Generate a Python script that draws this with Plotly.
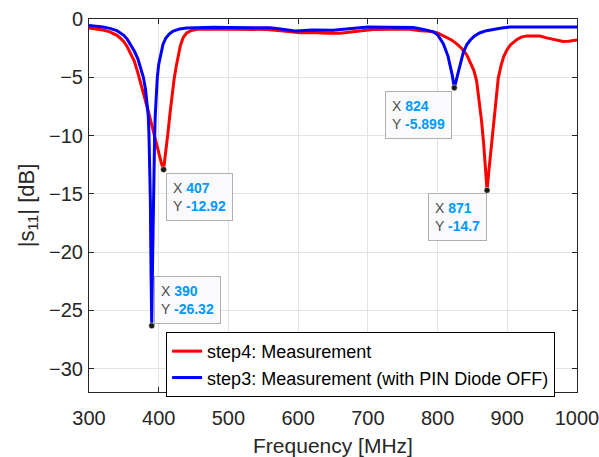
import plotly.graph_objects as go

# step4: Measurement (red)
freq_step4 = [300, 310, 320, 330, 340, 345, 350, 355, 360, 365, 370, 375, 380, 385,
              390, 395, 400, 404, 407, 410, 413, 416, 419, 422, 425, 428, 431, 435,
              440, 447, 455, 470, 500, 530, 555, 575, 590, 603, 620, 641, 660, 675,
              689, 707, 730, 760, 775, 789, 800, 813, 820, 828, 835, 842, 848, 852,
              856, 860, 863, 866, 869, 871, 873, 875, 878, 880, 884, 887, 891, 895,
              900, 905, 914, 920, 928, 940, 947, 955, 961, 970, 980, 988, 995, 1000]
s11_step4 = [-0.78, -0.85, -0.95, -1.1, -1.4, -1.65, -1.95, -2.4, -2.95, -3.6, -4.6, -5.6,
             -6.8, -7.9, -9.1, -10.3, -11.5, -12.4, -12.92, -11.6, -9.9, -8.2, -6.6, -5.2,
             -4.1, -3.1, -2.3, -1.6, -1.2, -0.98, -0.88, -0.85, -0.87, -0.88, -0.9, -1.0,
             -1.12, -1.18, -1.15, -1.23, -1.22, -1.1, -0.98, -0.9, -0.88, -0.89, -1.0,
             -1.06, -1.2, -1.55, -1.8, -2.15, -2.55, -3.1, -3.8, -4.4, -5.3, -7.0, -8.7,
             -10.6, -13.0, -14.7, -13.4, -12.2, -10.2, -8.7, -6.3, -5.1, -4.0, -3.2, -2.6,
             -2.2, -1.75, -1.55, -1.45, -1.42, -1.46, -1.6, -1.69, -1.82, -1.92, -1.9,
             -1.83, -1.8]

# step3: Measurement with the PIN diode switched off (blue)
freq_step3 = [300, 310, 320, 330, 340, 345, 350, 355, 360, 365, 370, 375, 378, 381, 383,
              385, 386, 387, 388, 389, 390, 391, 392, 393, 394, 395, 396, 397, 398, 400,
              403, 406, 410, 415, 420, 430, 440, 460, 480, 500, 530, 560, 575, 588, 595,
              603, 620, 650, 665, 674, 690, 700, 730, 765, 780, 794, 800, 804, 808, 811,
              815, 818, 821, 824, 827, 830, 834, 837, 842, 847, 853, 861, 870, 880, 892,
              904, 930, 960, 990, 1000]
s11_step3 = [-0.55, -0.6, -0.68, -0.8, -1.0, -1.2, -1.4, -1.75, -2.2, -2.75, -3.4, -4.3,
             -5.0, -6.0, -7.0, -8.3, -9.8, -12.0, -15.5, -21.8, -26.32, -21.6, -17.0, -13.5,
             -10.5, -8.3, -6.8, -5.8, -5.0, -3.9, -2.9, -2.2, -1.65, -1.3, -1.05, -0.85,
             -0.78, -0.72, -0.7, -0.72, -0.74, -0.76, -0.85, -1.0, -1.03, -1.0, -0.95,
             -0.97, -0.9, -0.83, -0.72, -0.69, -0.7, -0.72, -0.9, -1.1, -1.35, -1.7, -2.1,
             -2.55, -3.2, -4.0, -4.8, -5.899, -5.2, -4.5, -3.6, -2.85, -2.2, -1.8, -1.45,
             -1.18, -1.0, -0.89, -0.78, -0.69, -0.67, -0.67, -0.68, -0.68]

# data tips: frequency, value, and where the label box sits relative to the point
tip_freq = [407, 390, 824, 871]
tip_val = [-12.92, -26.32, -5.899, -14.7]
tip_xanchor = ["left", "left", "right", "right"]
tip_yanchor = ["top", "bottom", "top", "top"]
tip_xshift = [2, 2, -2, 0]
tip_yshift = [-3, 2, -3, -3]

x_ticks = [300, 400, 500, 600, 700, 800, 900, 1000]
y_ticks = [0, -5, -10, -15, -20, -25, -30]

FONT = "Liberation Sans, Arial, sans-serif"
INK = "#262626"

fig = go.Figure()
fig.add_trace(go.Scatter(x=freq_step4, y=s11_step4, mode="lines",
                         name="step4: Measurement",
                         line=dict(color="#ff0000", width=3)))
fig.add_trace(go.Scatter(x=freq_step3, y=s11_step3, mode="lines",
                         name="step3: Measurement (with PIN Diode OFF)",
                         line=dict(color="#0000ff", width=3)))
fig.add_trace(go.Scatter(x=tip_freq, y=tip_val, mode="markers", showlegend=False,
                         marker=dict(color="#1a1a1a", size=6,
                                     line=dict(color="#ffffe0", width=0.5))))


def fmt(v):
    return f"{v:g}"


for f, v, xa, ya, xs, ys in zip(tip_freq, tip_val, tip_xanchor, tip_yanchor,
                                tip_xshift, tip_yshift):
    txt = (f"<span style='color:#4d4d4d'>X</span> "
           f"<b><span style='color:#0099ff'>{fmt(f)}</span></b><br>"
           f"<span style='color:#4d4d4d'>Y</span> "
           f"<b><span style='color:#0099ff'>{fmt(v)}</span></b>")
    fig.add_annotation(x=f, y=v, xref="x", yref="y", text=txt, showarrow=False,
                       xanchor=xa, yanchor=ya, xshift=xs, yshift=ys, align="left",
                       font=dict(family=FONT, size=14),
                       bgcolor="rgba(250,250,253,0.95)", bordercolor="#b0b0b0",
                       borderwidth=1, borderpad=6)

axis_common = dict(showline=True, linecolor=INK, linewidth=1, mirror="ticks",
                   ticks="inside", ticklen=5, tickcolor=INK, showgrid=True,
                   gridcolor="#e3e3e3", gridwidth=1, zeroline=False, automargin=False,
                   ticklabeloverflow="allow",
                   tickfont=dict(family=FONT, size=20, color=INK))

fig.update_xaxes(range=[300, 1000], tickvals=x_ticks, ticklabelstandoff=8,
                 title=dict(text="Frequency [MHz]", standoff=10,
                            font=dict(family=FONT, size=21, color=INK)),
                 **axis_common)
fig.update_yaxes(range=[-32, 0], tickvals=y_ticks, ticklabelstandoff=1,
                 title=dict(text="|s<sub>11</sub>| [dB]", standoff=8,
                            font=dict(family=FONT, size=22, color=INK)),
                 **axis_common)

fig.update_layout(
    width=599, height=457,
    margin=dict(l=89, r=22, t=19, b=65),
    paper_bgcolor="white", plot_bgcolor="white",
    font=dict(family=FONT, color=INK),
    legend=dict(x=0.158, y=0.161, xanchor="left", yanchor="top",
                bgcolor="white", bordercolor="#000000", borderwidth=1,
                font=dict(family=FONT, size=18, color="#000000"),
                tracegroupgap=0),
    showlegend=True,
)

fig.write_html("out.html")
